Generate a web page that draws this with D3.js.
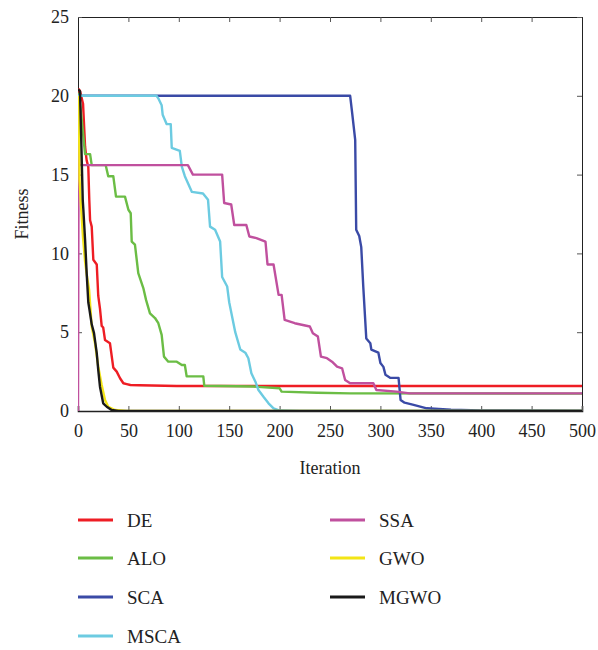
<!DOCTYPE html>
<html>
<head>
<meta charset="utf-8">
<script src="https://cdn.jsdelivr.net/npm/d3@7"></script>
<style>
  html, body { margin: 0; padding: 0; background: #fff; }
  svg { display: block; font-family: "Liberation Serif", "DejaVu Serif", serif; }
</style>
</head>
<body>
<svg id="chart" width="598" height="650"></svg>
<script>
// Convergence curves: [iteration, best fitness]
const DE = [[0,20.2],[1,20.4],[2,20.3],[5,19.5],[7,16.8],[8,16.2],[8.6,15.9],[10.2,15.5],[11.2,13.4],[12,12.1],[13.6,11.7],[15.2,9.6],[18.6,9.3],[20.1,7.3],[21.8,6.5],[23.5,5.4],[25,5.3],[26.8,4.5],[31.7,4.3],[35,2.75],[38.4,2.5],[41.7,2.08],[45,1.76],[48.3,1.71],[52,1.65],[61,1.63],[98,1.59],[500,1.59]];
const ALO = [[0,20.2],[2,19.5],[4,18.3],[7,16.3],[12,16.3],[13.6,15.6],[27.5,15.6],[30,14.9],[35,14.9],[37.7,13.6],[46.6,13.6],[50,12.77],[52.3,12.55],[53.3,10.75],[56.5,10.55],[59.8,8.75],[64.8,7.8],[67.5,7.05],[71.4,6.2],[76.4,5.9],[79.7,5.57],[83,4.83],[85.3,3.45],[89.6,3.13],[98,3.13],[103,2.92],[106,2.92],[107.8,2.2],[124.3,2.2],[125.3,1.6],[174,1.55],[200,1.44],[202,1.23],[237,1.16],[270,1.12],[500,1.1]];
const SCA = [[0,20],[270,20],[272,18.9],[275,17.2],[276,11.5],[279,11.1],[281,10.4],[283,7.9],[286,4.6],[290,4.3],[291,3.9],[298,3.7],[300,3.05],[303,2.8],[305,2.3],[310,2.1],[318,2.1],[320,0.7],[324,0.53],[332,0.4],[346,0.17],[370,0.08],[400,0.04],[500,0.02]];
const MSCA = [[0,20],[78,20],[80,19.8],[83,19.4],[84,18.8],[88,18.2],[92,18.2],[93,16.7],[101,16.5],[103,15.5],[106,14.9],[113,13.9],[124,13.8],[129,13.4],[131,11.7],[136,11.5],[141,10.75],[143,8.5],[148,7.9],[150,6.9],[156,5.0],[161,3.9],[166,3.7],[169,3.35],[172,2.4],[176,1.86],[179,1.33],[184,0.9],[189,0.49],[194,0.17],[200,0.03],[220,0],[500,0]];
const SSA = [[0,0],[0.6,17.2],[1.2,15.6],[109,15.6],[114,15.0],[143,15.0],[145,13.2],[152,13.1],[155,11.8],[167,11.8],[170,11.07],[177,10.97],[186,10.75],[188,9.3],[194,9.3],[199,7.37],[202,7.37],[205,5.78],[215,5.57],[230,5.36],[233,4.94],[238,4.72],[241,3.45],[247,3.35],[252,3.13],[257,2.81],[262,2.71],[265,1.97],[270,1.76],[293,1.76],[296,1.33],[316,1.23],[329,1.12],[500,1.12]];
const GWO = [[0,20],[1,19],[1.5,14.7],[3,13],[5,11],[7,9.5],[9,8.5],[11,7.7],[13.6,5.36],[16.9,4.3],[20.1,2.81],[23.5,1.65],[26.8,0.7],[30,0.27],[36.7,0.06],[48,0],[500,0]];
const MGWO = [[0,20.4],[2,20.3],[4.7,13.4],[5.3,12.8],[7,10.9],[8.6,8.75],[10.2,6.9],[11.2,6.5],[13.6,5.5],[15.9,4.94],[18.6,3.67],[20.1,2.6],[21.8,1.54],[25,0.49],[28.5,0.27],[33.4,0.06],[40,0],[500,0]];

const seriesNames = ["DE", "ALO", "SCA", "MSCA", "SSA", "GWO", "MGWO"];
const seriesData = [DE, ALO, SCA, MSCA, SSA, GWO, MGWO];
const seriesColors = ["#ee1d24", "#6bbd45", "#3a4aa6", "#6ccbe1", "#c0509e", "#f3e516", "#1a1a1a"];

const xTicks = [0, 50, 100, 150, 200, 250, 300, 350, 400, 450, 500];
const yTicks = [0, 5, 10, 15, 20, 25];

const svg = d3.select("#chart");
const plot = { left: 78, right: 582, top: 17, bottom: 411 };

const x = d3.scaleLinear().domain([0, 500]).range([plot.left, plot.right]);
const y = d3.scaleLinear().domain([0, 25]).range([plot.bottom, plot.top]);

svg.append("defs").append("clipPath").attr("id", "plotClip")
  .append("rect").attr("x", plot.left).attr("y", plot.top - 2)
  .attr("width", plot.right - plot.left).attr("height", plot.bottom - plot.top + 2);

// Frame with inward ticks on all four sides
const axisColor = "#222";
const axes = svg.append("g");

const bottomAxis = d3.axisBottom(x).tickValues(xTicks).tickSize(-5).tickPadding(13).tickFormat(d3.format("d"));
const topAxis = d3.axisTop(x).tickValues(xTicks).tickSize(-5).tickFormat("");
const leftAxis = d3.axisLeft(y).tickValues(yTicks).tickSize(-4).tickPadding(9).tickFormat(d3.format("d"));
const rightAxis = d3.axisRight(y).tickValues(yTicks).tickSize(-5).tickFormat("");

function styleAxis(g) {
  g.select(".domain").attr("stroke", axisColor).attr("stroke-width", 1);
  g.selectAll(".tick line").attr("stroke", "#555").attr("stroke-width", 1);
  g.selectAll(".tick text").attr("fill", "#222")
    .attr("font-family", "'Liberation Serif', 'DejaVu Serif', serif").attr("font-size", 18);
}

axes.append("g").attr("transform", `translate(0,${plot.top})`).call(topAxis).call(styleAxis);
axes.append("g").attr("transform", `translate(${plot.right},0)`).call(rightAxis).call(styleAxis);
axes.append("g").attr("transform", `translate(${plot.left},0)`).call(leftAxis).call(styleAxis);

// Curves
const line = d3.line().x(d => x(d[0])).y(d => y(d[1]));
const curves = svg.append("g").attr("clip-path", "url(#plotClip)");
seriesData.forEach((data, i) => {
  curves.append("path")
    .attr("d", line(data))
    .attr("fill", "none")
    .attr("stroke", seriesColors[i])
    .attr("stroke-width", 2.4)
    .attr("stroke-linejoin", "round");
});

const xAxisG = axes.append("g").attr("transform", `translate(0,${plot.bottom})`).call(bottomAxis).call(styleAxis);
xAxisG.select(".domain").attr("stroke-width", 1.6);

// Axis titles
svg.append("text")
  .attr("x", (plot.left + plot.right) / 2).attr("y", 474)
  .attr("text-anchor", "middle").attr("font-size", 18).attr("fill", "#222")
  .text("Iteration");
svg.append("text")
  .attr("transform", `translate(28,${(plot.top + plot.bottom) / 2}) rotate(-90)`)
  .attr("text-anchor", "middle").attr("font-size", 18).attr("fill", "#222")
  .text("Fitness");

// Legend in two columns
const legendRows = [520, 558, 597, 636];
const legendCols = [78, 330];
const legend = svg.append("g");
seriesNames.forEach((name, i) => {
  const col = i < 4 ? 0 : 1;
  const row = i < 4 ? i : i - 4;
  const lx = legendCols[col], ly = legendRows[row];
  legend.append("line")
    .attr("x1", lx).attr("x2", lx + 35).attr("y1", ly).attr("y2", ly)
    .attr("stroke", seriesColors[i]).attr("stroke-width", 3);
  legend.append("text")
    .attr("x", lx + 49).attr("y", ly + 6.5)
    .attr("font-size", 19).attr("fill", "#222")
    .text(name);
});
</script>
</body>
</html>
